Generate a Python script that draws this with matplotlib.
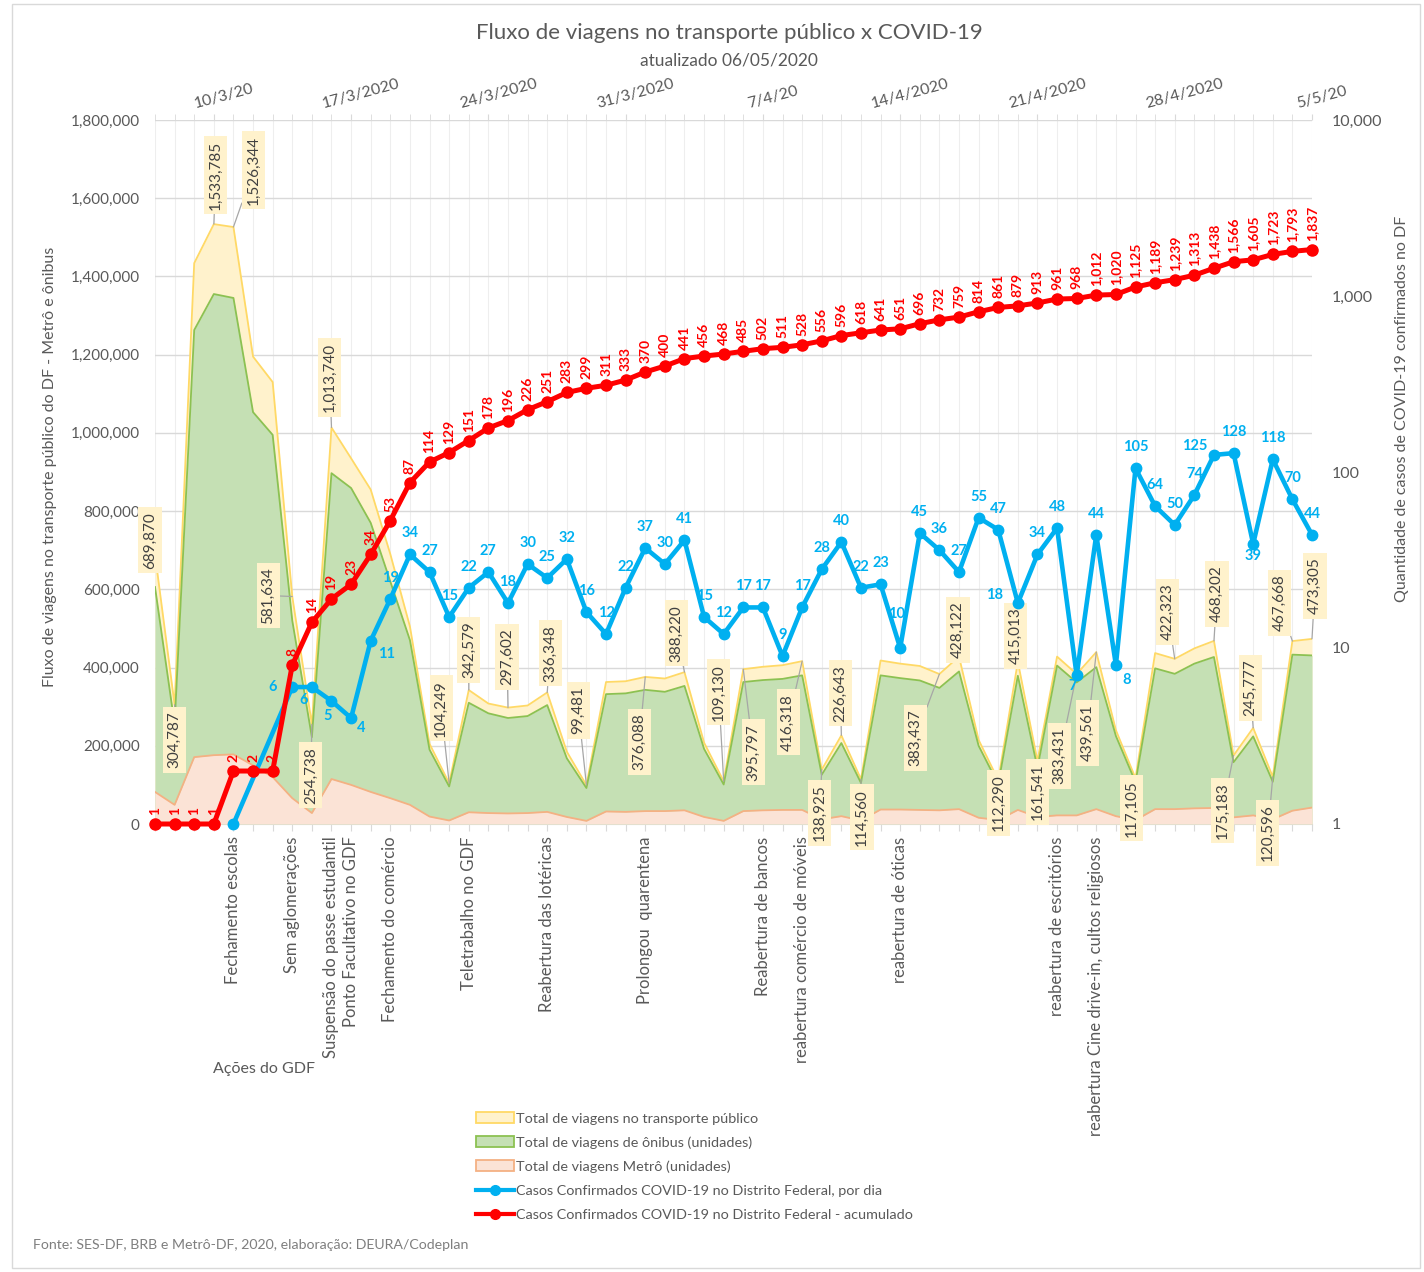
import numpy as np
import pandas as pd
import matplotlib
matplotlib.use('Agg')
import matplotlib.pyplot as plt
from matplotlib.patches import Patch, Rectangle
from matplotlib.lines import Line2D
from matplotlib.ticker import FuncFormatter, NullLocator
from matplotlib.transforms import ScaledTranslation

plt.rcParams['font.family'] = ['Lato', 'DejaVu Sans']

# dias de 7/3/2020 a 5/5/2020
datas = pd.date_range('2020-03-07', '2020-05-05', freq='D')

total_viagens = [689870, 304787, 1434000, 1533785, 1526344, 1195000, 1130000, 581634, 254738, 1013740,
                 935000, 855000, 690000, 505000, 205000, 104249, 342579, 308000, 297602, 303000,
                 336348, 185000, 99481, 363000, 365000, 376088, 372000, 388220, 208000, 109130,
                 395797, 402000, 406000, 416318, 138925, 226643, 114560, 418000, 410000, 404000,
                 383437, 428122, 215000, 112290, 415013, 161541, 428000, 383431, 439561, 240000,
                 117105, 437000, 422323, 449000, 468202, 175183, 245777, 120596, 467668, 473305]

viagens_onibus = [606000, 255000, 1263000, 1355000, 1345000, 1053000, 995000, 520000, 222000, 897000,
                  859000, 770000, 620000, 470000, 190000, 96000, 310000, 283000, 271000, 276000,
                  304000, 168000, 92000, 332000, 334000, 343000, 338000, 353000, 192000, 101000,
                  363000, 368000, 371000, 380000, 126000, 207000, 105000, 380000, 373000, 367000,
                  348000, 390000, 200000, 102000, 379000, 143000, 405000, 362000, 401000, 225000,
                  107000, 398000, 384000, 410000, 427000, 158000, 224000, 108000, 433000, 431000]

viagens_metro = [82000, 49000, 171000, 176000, 178000, 150000, 120000, 66000, 28000, 115000,
                 100000, 82000, 66000, 49000, 19000, 9000, 30000, 28000, 27000, 28000,
                 31000, 18000, 8000, 32000, 31000, 33000, 33000, 35000, 18000, 8000,
                 33000, 35000, 36000, 36000, 12000, 20000, 9000, 37000, 37000, 36000,
                 35000, 38000, 16000, 10000, 36000, 18000, 22000, 22000, 38000, 20000,
                 10000, 38000, 38000, 40000, 41000, 17000, 22000, 12000, 34000, 42000]

casos_dia = [None, None, None, None, 1, 0, 0, 6, 6, 5, 4, 11, 19, 34, 27, 15, 22, 27, 18, 30,
             25, 32, 16, 12, 22, 37, 30, 41, 15, 12, 17, 17, 9, 17, 28, 40, 22, 23, 10, 45,
             36, 27, 55, 47, 18, 34, 48, 7, 44, 8, 105, 64, 50, 74, 125, 128, 39, 118, 70, 44]

casos_acum = [1, 1, 1, 1, 2, 2, 2, 8, 14, 19, 23, 34, 53, 87, 114, 129, 151, 178, 196, 226,
              251, 283, 299, 311, 333, 370, 400, 441, 456, 468, 485, 502, 511, 528, 556, 596, 618, 641, 651, 696,
              732, 759, 814, 861, 879, 913, 961, 968, 1012, 1020, 1125, 1189, 1239, 1313, 1438, 1566, 1605, 1723, 1793, 1837]

# datas da escala superior
datas_topo = ['10/3/20', '17/3/2020', '24/3/2020', '31/3/2020', '7/4/20',
              '14/4/2020', '21/4/2020', '28/4/2020', '5/5/20']

# ações do GDF
acoes_datas = ['2020-03-11', '2020-03-14', '2020-03-16', '2020-03-17', '2020-03-19', '2020-03-23',
               '2020-03-27', '2020-04-01', '2020-04-07', '2020-04-09', '2020-04-14', '2020-04-22',
               '2020-04-24']
acoes_texto = ['Fechamento escolas', 'Sem aglomerações', 'Suspensão do passe estudantil',
               'Ponto Facultativo no GDF', 'Fechamento do comércio', 'Teletrabalho no GDF',
               'Reabertura das lotéricas', 'Prolongou  quarentena', 'Reabertura de bancos',
               'reabertura comércio de móveis', 'reabertura de óticas', 'reabertura de escritórios',
               'reabertura Cine drive-in, cultos religiosos']

# rótulos do total de viagens: dia e deslocamento da caixa (pixels)
rotulos_idx = [0, 1, 3, 4, 7, 8, 9, 15, 16, 18, 20, 22, 25, 27, 29, 30, 33, 34, 35, 36,
               40, 41, 43, 44, 45, 47, 48, 50, 52, 54, 55, 56, 57, 58, 59]
rotulos_desloc = [(-5, 14), (0, -35), (2, 49), (20, 57), (-24, 1), (-1, -51), (-2, 50), (-8, 75),
                  (0, 40), (-1, 51), (3, 39), (-8, 75), (-6, -65), (-8, 39), (-5, 89), (10, -83),
                  (-14, -61), (-2, -43), (-1, 42), (1, -38), (-24, -64), (-1, 27), (0, -23),
                  (-2, 26), (0, -31), (-17, -82), (-9, -81), (-4, -30), (-7, 47), (3, 47),
                  (-11, -55), (-3, 40), (-5, -56), (-13, 38), (3, 53)]

# deslocamento dos rótulos azuis que não ficam acima do ponto
desloc_azul = {7: (-20, 0), 8: (-8, -13), 9: (-4, -15), 10: (10, -10), 11: (16, -13),
               38: (-4, 34), 44: (-23, 8), 47: (-4, -11), 49: (11, -15), 54: (-19, 9),
               56: (0, -12)}

CINZA = '#595959'
AZUL = '#00B0F0'
VERMELHO = '#FF0000'

x = np.arange(len(datas))
idx_data = {d.strftime('%Y-%m-%d'): i for i, d in enumerate(datas)}

fig = plt.figure(figsize=(14.24, 12.72), dpi=100)
ax = fig.add_axes([155 / 1424, 1 - 824 / 1272, (1312 - 155) / 1424, (824 - 120) / 1272])

# áreas
ax.fill_between(x, total_viagens, color='#FFF2CC', lw=0, zorder=2)
ax.plot(x, total_viagens, color='#FFD966', lw=1.3, zorder=2)
ax.fill_between(x, viagens_onibus, color='#C5E0B4', lw=0, zorder=3)
ax.plot(x, viagens_onibus, color='#8CC152', lw=1.3, zorder=3)
ax.fill_between(x, viagens_metro, color='#FBE3D6', lw=0, zorder=4)
ax.plot(x, viagens_metro, color='#F4B183', lw=1.3, zorder=4)

ax.set_xlim(0, len(datas) - 1)
ax.set_ylim(0, 1800000)
ax.set_yticks(np.arange(0, 1800001, 200000))
ax.yaxis.set_major_formatter(FuncFormatter(lambda v, p: f'{int(v):,}'))
ax.tick_params(axis='y', length=0, pad=11, labelsize=11, labelcolor=CINZA)
ax.set_axisbelow(True)
ax.grid(axis='y', color='#D9D9D9', lw=1)
ax.grid(axis='x', color='#EEEEEE', lw=0.8)
for s in ['left', 'right', 'top']:
    ax.spines[s].set_visible(False)
ax.spines['bottom'].set_color('#D9D9D9')

# eixo inferior: ações do GDF
rot_baixo = [''] * len(datas)
for d, t in zip(acoes_datas, acoes_texto):
    rot_baixo[idx_data[d]] = t
ax.set_xticks(x)
ax.set_xticklabels(rot_baixo, rotation=90, va='top', ha='center')
ax.tick_params(axis='x', length=5, color='#D9D9D9', pad=4, labelsize=12, labelcolor=CINZA)

ax.set_ylabel('Fluxo de viagens no transporte público do DF - Metrô e ônibus',
              fontsize=11.5, color=CINZA)
ax.yaxis.set_label_coords(-0.0847, 0.507)

# eixo superior
topo_idx = [i for i in x if i % 7 == 3]
sec = ax.secondary_xaxis('top')
sec.set_xticks(topo_idx)
sec.set_xticklabels(datas_topo, rotation=15, ha='center')
sec.set_xticks(x, minor=True)
sec.tick_params(which='both', length=4, color='#D9D9D9', labelsize=11.5, labelcolor=CINZA, pad=5)
sec.spines['top'].set_visible(False)
desloc = ScaledTranslation(10 / 100, -3 / 100, fig.dpi_scale_trans)
for lab in sec.get_xticklabels():
    lab.set_transform(lab.get_transform() + desloc)

# rótulos das áreas
for i, (dx, dy) in zip(rotulos_idx, rotulos_desloc):
    ax.annotate(f'{total_viagens[i]:,}', xy=(i, total_viagens[i]), xytext=(dx, dy),
                textcoords='offset pixels', rotation=90, ha='center', va='center',
                fontsize=11, color='#404040', zorder=6, annotation_clip=False,
                bbox=dict(boxstyle='square,pad=0.3', fc='#FFF2CC', ec='none'),
                arrowprops=dict(arrowstyle='-', color='#A6A6A6', lw=0.9, shrinkA=0, shrinkB=0))

# eixo log dos casos
ax2 = ax.twinx()
ax2.set_yscale('log')
ax2.set_ylim(1, 10000)
ax2.yaxis.set_major_formatter(FuncFormatter(lambda v, p: f'{int(v):,}'))
ax2.yaxis.set_minor_locator(NullLocator())
ax2.tick_params(axis='y', length=0, pad=14, labelsize=11.5, labelcolor=CINZA)
for s in ax2.spines.values():
    s.set_visible(False)
ax2.set_ylabel('Quantidade de casos de COVID-19 confirmados no DF', fontsize=11.5, color=CINZA)
ax2.yaxis.set_label_coords(1.0717, 0.589)

xd = [i for i, v in enumerate(casos_dia) if v is not None and v > 0]
yd = [casos_dia[i] for i in xd]
ax2.plot(xd, yd, color=AZUL, lw=3.3, marker='o', ms=7.5, clip_on=False, zorder=5)
ax2.plot(x, casos_acum, color=VERMELHO, lw=3.6, marker='o', ms=8, clip_on=False, zorder=6)

for i, v in zip(xd, yd):
    if i == 4:
        continue
    dx, dy = desloc_azul.get(i, (0, 21))
    ax2.annotate(str(v), xy=(i, v), xytext=(dx, dy), textcoords='offset pixels',
                 ha='center', va='center', fontsize=10.5, fontweight='bold', color=AZUL,
                 annotation_clip=False)

for i, v in enumerate(casos_acum):
    ax2.annotate(f'{v:,}', xy=(i, v), xytext=(0, 9), textcoords='offset pixels',
                 rotation=90, ha='center', va='bottom', fontsize=10, fontweight='bold',
                 color=VERMELHO, annotation_clip=False)

# títulos e textos
fig.text(0.512, 1 - 33 / 1272, 'Fluxo de viagens no transporte público x COVID-19',
         ha='center', va='center', fontsize=16, color=CINZA)
fig.text(0.512, 1 - 60 / 1272, 'atualizado 06/05/2020', ha='center', va='center',
         fontsize=12.5, color=CINZA)
fig.text(264 / 1424, 1 - 1069 / 1272, 'Ações do GDF', ha='center', va='center',
         fontsize=11.5, color=CINZA)
fig.text(33 / 1424, 1 - 1245 / 1272, 'Fonte: SES-DF, BRB e Metrô-DF, 2020, elaboração: DEURA/Codeplan',
         ha='left', va='center', fontsize=10.2, color='#7F7F7F')

# legenda
handles = [
    Patch(fc='#FFF2CC', ec='#FFD966', lw=1.3),
    Patch(fc='#C5E0B4', ec='#8CC152', lw=1.3),
    Patch(fc='#FBE3D6', ec='#F4B183', lw=1.3),
    Line2D([], [], color=AZUL, lw=3, marker='o', ms=7),
    Line2D([], [], color=VERMELHO, lw=3, marker='o', ms=7),
]
labels = ['Total de viagens no transporte público', 'Total de viagens de ônibus (unidades)',
          'Total de viagens Metrô (unidades)',
          'Casos Confirmados COVID-19 no Distrito Federal, por dia',
          'Casos Confirmados COVID-19 no Distrito Federal - acumulado']
leg = fig.legend(handles, labels, loc='upper left', bbox_to_anchor=(476 / 1424, 1 - 1112 / 1272),
                 frameon=False, fontsize=10.4, handlelength=2.6, handleheight=0.8,
                 handletextpad=0.15, labelspacing=0.8, borderaxespad=0, borderpad=0)
for t in leg.get_texts():
    t.set_color(CINZA)

fig.patches.append(Rectangle((12 / 1424, 4 / 1272), 1408 / 1424, 1264 / 1272, transform=fig.transFigure,
                             fill=False, ec='#D9D9D9', lw=1))

fig.savefig('out.png', dpi=100, facecolor='white')
